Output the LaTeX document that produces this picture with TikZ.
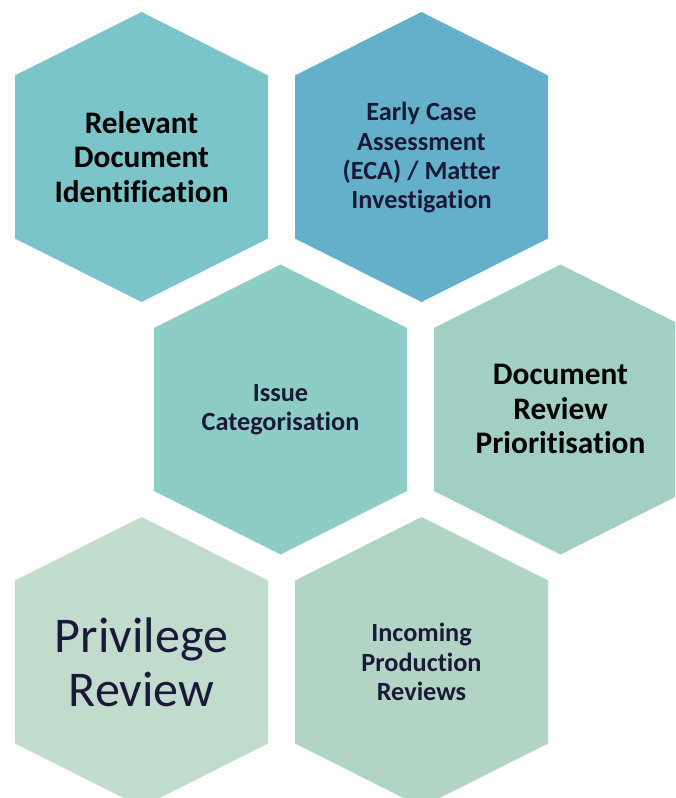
\documentclass[tikz,border=0pt]{standalone}
\usepackage{fontspec}
\setmainfont[Ligatures=NoCommon]{Carlito}

\definecolor{hexone}{RGB}{123,196,201}
\definecolor{hextwo}{RGB}{100,176,202}
\definecolor{hexthree}{RGB}{142,205,198}
\definecolor{hexfour}{RGB}{161,207,195}
\definecolor{hexfive}{RGB}{193,219,205}
\definecolor{hexsix}{RGB}{178,212,197}
\definecolor{inknavy}{RGB}{26,26,56}

\tikzset{
  cell/.style = {align=center, inner sep=0pt, outer sep=0pt},
  bigbold/.style = {cell, font=\bfseries\fontsize{23.5}{25.9}\selectfont},
  smallbold/.style = {cell, font=\bfseries\fontsize{19.7}{22}\selectfont},
  huge/.style = {cell, font=\fontsize{37.5}{40.5}\selectfont}
}

% one honeycomb cell, centred on (#1,#2)
\newcommand{\hexcell}[3]{%
  \fill[#3] (#1,#2-\hh) -- (#1+\hw,#2-\hs) -- (#1+\hw,#2+\hs)
    -- (#1,#2+\hh) -- (#1-\hw,#2+\hs) -- (#1-\hw,#2-\hs) -- cycle;}

\begin{document}
\begin{tikzpicture}[x=0.75pt, y=-0.75pt]
	\def \hw{126.5} % half width
	\def \hh{145}   % half height (tip)
	\def \hs{81.5}  % half height (side)

	\useasboundingbox (0,0) rectangle (675,798);
	\clip (0,0) rectangle (675,798);

	% Row 1
	\hexcell{141.5}{157}{hexone}
	\hexcell{421.5}{157}{hextwo}
	% Row 2
	\hexcell{280.5}{409.5}{hexthree}
	\hexcell{560.5}{409.5}{hexfour}
	% Row 3
	\hexcell{141.5}{662}{hexfive}
	\hexcell{421.5}{662}{hexsix}

	% Labels
	\node[bigbold, text=black] (reldoc) at (141.5,157) {Relevant\\Document\\Identification};
	\node[smallbold, text=inknavy] (eca) at (421.5,158) {Early Case\\Assessment\\(ECA) / Matter\\Investigation};
	\node[smallbold, text=inknavy] (issue) at (280.5,410) {Issue\\Categorisation};
	\node[bigbold, text=black] (prio) at (560.5,409) {Document\\Review\\Prioritisation};
	\node[huge, text=inknavy] (priv) at (141.5,662) {Privilege\\Review};
	\node[smallbold, text=inknavy] (incoming) at (421.5,662) {Incoming\\Production\\Reviews};
\end{tikzpicture}
\end{document}
